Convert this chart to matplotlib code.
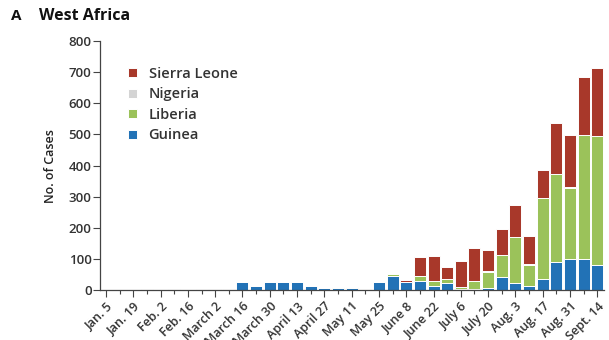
import matplotlib
matplotlib.use("Agg")
import matplotlib.pyplot as plt
import numpy as np

plt.rcParams['font.family'] = ['Open Sans', 'DejaVu Sans']

# Weekly case counts, week of Jan. 5 through Sept. 14 (37 weeks)
weeks = ["Jan. 5", "Jan. 12", "Jan. 19", "Jan. 26", "Feb. 2", "Feb. 9", "Feb. 16", "Feb. 23",
         "March 2", "March 9", "March 16", "March 23", "March 30", "April 6", "April 13",
         "April 20", "April 27", "May 4", "May 11", "May 18", "May 25", "June 1", "June 8",
         "June 15", "June 22", "June 29", "July 6", "July 13", "July 20", "July 27", "Aug. 3",
         "Aug. 10", "Aug. 17", "Aug. 24", "Aug. 31", "Sept. 7", "Sept. 14"]

guinea = [0, 0, 0, 2, 1, 2, 1, 2, 2, 2, 25, 13, 25, 25, 25, 14, 7, 8, 8, 3, 25, 45, 25,
          30, 14, 21, 3, 3, 5, 41, 24, 14, 34, 91, 100, 100, 80]
liberia = [0, 0, 0, 0, 0, 0, 0, 0, 0, 0, 0, 0, 0, 0, 0, 0, 0, 1, 1, 0, 0, 5, 0,
           16, 16, 14, 8, 27, 54, 72, 146, 68, 261, 282, 229, 398, 415]
nigeria = [0, 0, 0, 0, 0, 0, 0, 0, 0, 0, 0, 0, 0, 0, 0, 0, 0, 0, 0, 0, 0, 0, 0,
           0, 0, 0, 0, 0, 1, 1, 2, 1, 1, 1, 1, 1, 0]
sierra = [0, 0, 0, 0, 0, 0, 0, 0, 0, 0, 0, 0, 0, 0, 0, 0, 0, 0, 0, 0, 0, 0, 7,
          59, 79, 38, 83, 104, 69, 81, 101, 92, 90, 164, 168, 185, 220]

tick_labels = ["Jan. 5", "Jan. 19", "Feb. 2", "Feb. 16", "March 2", "March 16", "March 30",
               "April 13", "April 27", "May 11", "May 25", "June 8", "June 22", "July 6",
               "July 20", "Aug. 3", "Aug. 17", "Aug. 31", "Sept. 14"]

c_guinea = "#2272b6"
c_liberia = "#9bc25a"
c_nigeria = "#d4d4d4"
c_sierra = "#a8382a"
txt = "#333333"

fig = plt.figure(figsize=(6.09, 3.4), dpi=100)
ax = fig.add_axes([0.164, 0.147, 0.828, 0.732])

x = np.arange(len(weeks))
g = np.array(guinea, float)
l = np.array(liberia, float)
n = np.array(nigeria, float)
s = np.array(sierra, float)
w = 0.88
kw = dict(width=w, edgecolor="white", linewidth=0.7)
ax.bar(x, g, color=c_guinea, label="Guinea", **kw)
ax.bar(x, l, bottom=g, color=c_liberia, label="Liberia", **kw)
ax.bar(x, n, bottom=g + l, color=c_nigeria, label="Nigeria", **kw)
ax.bar(x, s, bottom=g + l + n, color=c_sierra, label="Sierra Leone", **kw)

ax.set_xlim(-0.45, 36.5)
ax.set_ylim(0, 800)
ax.set_yticks(np.arange(0, 801, 100))
ax.set_xticks(x[::2])
ax.set_xticklabels(tick_labels, rotation=45, ha="right", rotation_mode="anchor",
                   fontsize=9, color=txt, fontweight="semibold")
ax.set_xticks(x, minor=True)
ax.tick_params(axis="x", which="major", length=5, width=0.8, color="#444444", pad=2)
ax.tick_params(axis="x", which="minor", length=3, width=0.8, color="#444444")
ax.tick_params(axis="y", length=5, width=0.8, color="#444444", labelsize=9.5,
               labelcolor=txt, pad=1)
for t in ax.get_yticklabels():
    t.set_fontweight("semibold")

for sp in ["top", "right"]:
    ax.spines[sp].set_visible(False)
ax.spines["left"].set_color("#444444")
ax.spines["bottom"].set_color("#444444")
ax.spines["left"].set_linewidth(0.9)
ax.spines["bottom"].set_linewidth(0.9)

ax.set_ylabel("No. of Cases", fontsize=9, color="#222222", fontweight="semibold", labelpad=8)

handles, labels = ax.get_legend_handles_labels()
leg = ax.legend(handles[::-1], labels[::-1], loc="upper left", bbox_to_anchor=(0.03, 0.95),
                frameon=False, fontsize=10.5, handlelength=0.6, handleheight=0.6,
                handletextpad=0.8, labelspacing=0.45, labelcolor=txt)
for t in leg.get_texts():
    t.set_fontweight("semibold")

fig.text(0.018, 0.94, "A", fontsize=11, fontweight="bold", color="#111111")
fig.text(0.064, 0.94, "West Africa", fontsize=11.5, fontweight="bold", color="#111111")

fig.savefig("out.png", dpi=100, facecolor="white")
